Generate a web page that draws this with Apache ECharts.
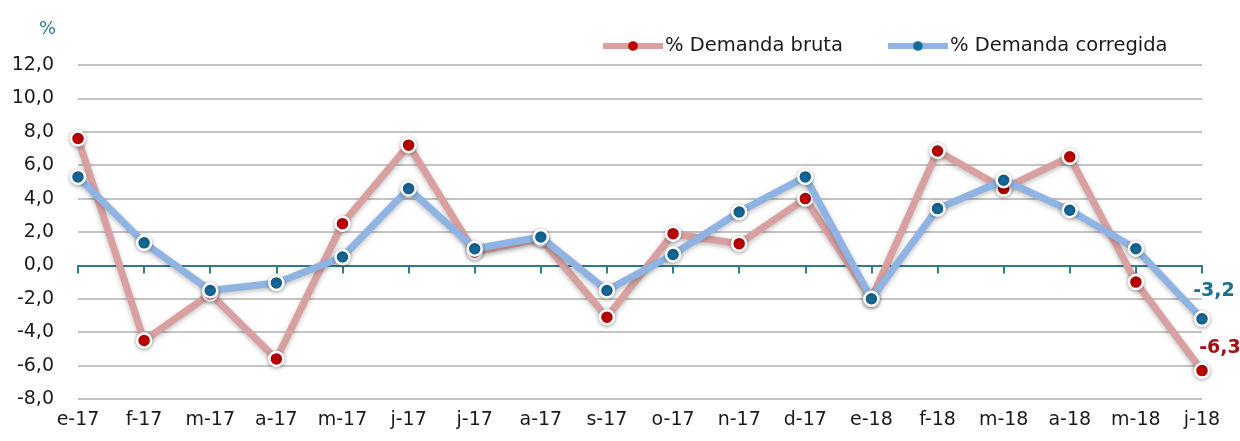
<!DOCTYPE html>
<html>
<head>
<meta charset="utf-8">
<script src="https://cdn.jsdelivr.net/npm/echarts@6/dist/echarts.min.js"></script>
<style>
html,body{margin:0;padding:0;background:#fff;}
#c{width:1240px;height:441px;}
</style>
</head>
<body>
<div id="c"></div>
<script>
const categories = ['e-17','f-17','m-17','a-17','m-17','j-17','j-17','a-17','s-17','o-17','n-17','d-17','e-18','f-18','m-18','a-18','m-18','j-18'];
const demandaBruta = [7.6,-4.5,-1.7,-5.6,2.5,7.2,0.8,1.6,-3.1,1.9,1.3,4.0,-2.0,6.85,4.6,6.5,-1.0,-6.3];
const demandaCorregida = [5.3,1.35,-1.5,-1.05,0.5,4.6,1.0,1.7,-1.5,0.65,3.2,5.3,-2.0,3.4,5.1,3.3,1.0,-3.2];
const yTicks = {min:-8, max:12, interval:2};

const fmt = v => v.toFixed(1).replace('.', ',');
const FONT = 'DejaVu Sans';

function withEndLabel(arr, labelCfg) {
  return arr.map((v, i) => i === arr.length - 1 ? {value: v, label: labelCfg} : v);
}

const chart = echarts.init(document.getElementById('c'));
chart.setOption({
  animation: false,
  backgroundColor: '#ffffff',
  title: {
    text: '%', left: 34, top: 15,
    textStyle: {fontFamily: FONT, fontSize: 18, fontWeight: 'normal', color: '#2b7a96'}
  },
  legend: {
    left: 595, top: 31, itemWidth: 60, itemHeight: 12, itemGap: 42,
    textStyle: {fontFamily: FONT, fontSize: 19.5, color: '#1a1a1a', padding: [0, 0, 0, -3]},
    lineStyle: {width: 6, shadowBlur: 0},
    itemStyle: {borderWidth: 0, shadowBlur: 0},
    data: ['% Demanda bruta', '% Demanda corregida']
  },
  grid: {left: 78, right: 38, top: 65, bottom: 42, containLabel: false},
  xAxis: [{
    type: 'category', data: categories, boundaryGap: false, position: 'bottom',
    axisLine: {show: false, onZero: false}, axisTick: {show: false},
    axisLabel: {fontFamily: FONT, fontSize: 19, color: '#1a1a1a', margin: 12, interval: 0}
  }, {
    type: 'category', data: categories, boundaryGap: false, position: 'top',
    axisLine: {show: true, onZero: true, lineStyle: {color: '#2e7d8c', width: 2}},
    axisTick: {show: true, inside: true, length: 8, interval: 0, lineStyle: {color: '#2e7d8c', width: 2}},
    axisLabel: {show: false}
  }],
  yAxis: {
    type: 'value', min: yTicks.min, max: yTicks.max, interval: yTicks.interval,
    axisLine: {show: false}, axisTick: {show: false},
    splitLine: {lineStyle: {color: '#c4c4c4', width: 2}},
    axisLabel: {fontFamily: FONT, fontSize: 19, color: '#1a1a1a', margin: 24, formatter: fmt}
  },
  series: [{
    name: '% Demanda bruta', type: 'line', xAxisIndex: 0,
    data: withEndLabel(demandaBruta, {
      show: true, position: 'top', distance: 5, offset: [18, 0],
      formatter: p => fmt(p.value), fontFamily: FONT, fontSize: 19, fontWeight: 'bold', color: '#a30f12'
    }),
    symbol: 'circle', symbolSize: 14,
    lineStyle: {color: '#d9a0a0', width: 7, shadowBlur: 5, shadowColor: 'rgba(0,0,0,0.25)', shadowOffsetY: 2},
    itemStyle: {color: '#c00000', borderColor: '#ffffff', borderWidth: 2.5, shadowBlur: 4, shadowColor: 'rgba(0,0,0,0.3)', shadowOffsetY: 1},
    z: 2
  }, {
    name: '% Demanda corregida', type: 'line', xAxisIndex: 0,
    data: withEndLabel(demandaCorregida, {
      show: true, position: 'top', distance: 10, offset: [12, 0],
      formatter: p => fmt(p.value), fontFamily: FONT, fontSize: 19, fontWeight: 'bold', color: '#1d6f91'
    }),
    symbol: 'circle', symbolSize: 14,
    lineStyle: {color: '#8fb4e3', width: 7, shadowBlur: 5, shadowColor: 'rgba(0,0,0,0.25)', shadowOffsetY: 2},
    itemStyle: {color: '#16699a', borderColor: '#ffffff', borderWidth: 2.5, shadowBlur: 4, shadowColor: 'rgba(0,0,0,0.3)', shadowOffsetY: 1},
    z: 3
  }]
});
</script>
</body>
</html>
